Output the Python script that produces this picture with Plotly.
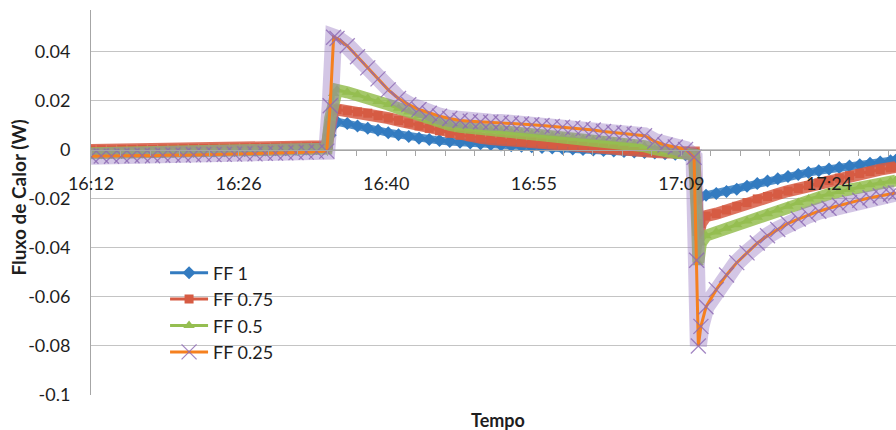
import plotly.graph_objects as go

# ---- data ----
tempo = [
    "16:12:00", "16:13:00", "16:14:00", "16:15:00", "16:16:00", "16:17:00", "16:18:00", "16:19:00",
    "16:20:00", "16:21:00", "16:22:00", "16:23:00", "16:24:00", "16:25:00", "16:26:00", "16:27:00",
    "16:28:00", "16:29:00", "16:30:00", "16:31:00", "16:32:00", "16:33:00", "16:34:00", "16:35:00",
    "16:35:20", "16:35:40", "16:36:00",
    "16:37:00", "16:38:00", "16:39:00", "16:40:00", "16:41:00", "16:42:00", "16:43:00", "16:44:00",
    "16:45:00", "16:46:00", "16:47:00", "16:48:00", "16:49:00", "16:50:00", "16:51:00", "16:52:00",
    "16:53:00", "16:54:00", "16:55:00", "16:56:00", "16:57:00", "16:58:00", "16:59:00", "17:00:00",
    "17:01:00", "17:02:00", "17:03:00", "17:04:00", "17:05:00", "17:06:00", "17:07:00", "17:08:00",
    "17:09:00", "17:10:00",
    "17:10:50", "17:11:05", "17:11:15", "17:11:30",
    "17:12:00", "17:13:00", "17:14:00", "17:15:00", "17:16:00", "17:17:00", "17:18:00", "17:19:00",
    "17:20:00", "17:21:00", "17:22:00", "17:23:00", "17:24:00", "17:25:00", "17:26:00", "17:27:00",
    "17:28:00", "17:29:00", "17:30:00", "17:30:30",
]

ff_1 = [
    -0.0010, -0.0011, -0.0009, -0.0010, -0.0008, -0.0008, -0.0007, -0.0007, -0.0006, -0.0005,
    -0.0005, -0.0004, -0.0004, -0.0003, -0.0002, -0.0002, -0.0001, 0.0000, 0.0001, 0.0001,
    0.0003, 0.0004, 0.0006, 0.0008,
    0.0060, 0.0100, 0.0115,
    0.0108, 0.0098, 0.0088, 0.0080, 0.0070, 0.0062, 0.0055, 0.0048, 0.0043, 0.0038,
    0.0034, 0.0031, 0.0028, 0.0025, 0.0022, 0.0020, 0.0017, 0.0015, 0.0013, 0.0010,
    0.0008, 0.0006, 0.0004, 0.0002, 0.0000, -0.0002, -0.0004, -0.0006, -0.0008, -0.0010,
    -0.0013, -0.0016, -0.0018, -0.0020,
    -0.0030, -0.0120, -0.0200, -0.0190,
    -0.0185, -0.0178, -0.0170, -0.0160, -0.0148, -0.0137, -0.0127, -0.0118, -0.0108, -0.0100,
    -0.0092, -0.0085, -0.0078, -0.0072, -0.0066, -0.0060, -0.0054, -0.0049, -0.0044, -0.0042,
]

ff_075 = [
    0.0000, 0.0001, 0.0000, 0.0002, 0.0002, 0.0003, 0.0002, 0.0004, 0.0004, 0.0005,
    0.0006, 0.0006, 0.0007, 0.0007, 0.0008, 0.0009, 0.0010, 0.0010, 0.0011, 0.0012,
    0.0012, 0.0013, 0.0014, 0.0015,
    0.0100, 0.0160, 0.0165,
    0.0160, 0.0155, 0.0150, 0.0140, 0.0130, 0.0120, 0.0110, 0.0098, 0.0088, 0.0078,
    0.0068, 0.0060, 0.0054, 0.0049, 0.0045, 0.0041, 0.0037, 0.0034, 0.0031, 0.0027,
    0.0024, 0.0021, 0.0018, 0.0015, 0.0012, 0.0009, 0.0006, 0.0003, 0.0000, -0.0003,
    -0.0008, -0.0010, -0.0008, -0.0005,
    -0.0010, -0.0200, -0.0350, -0.0300,
    -0.0270, -0.0260, -0.0245, -0.0230, -0.0215, -0.0200, -0.0190, -0.0180, -0.0168, -0.0157,
    -0.0146, -0.0135, -0.0125, -0.0115, -0.0105, -0.0096, -0.0088, -0.0080, -0.0073, -0.0070,
]

ff_05 = [
    -0.0014, -0.0013, -0.0014, -0.0012, -0.0011, -0.0012, -0.0010, -0.0009, -0.0010, -0.0008,
    -0.0007, -0.0008, -0.0006, -0.0005, -0.0005, -0.0004, -0.0003, -0.0003, -0.0001, 0.0000,
    0.0001, 0.0002, 0.0003, 0.0005,
    0.0130, 0.0230, 0.0245,
    0.0235, 0.0225, 0.0210, 0.0198, 0.0185, 0.0170, 0.0155, 0.0140, 0.0125, 0.0112,
    0.0102, 0.0094, 0.0088, 0.0083, 0.0079, 0.0075, 0.0071, 0.0068, 0.0064, 0.0060,
    0.0056, 0.0052, 0.0048, 0.0044, 0.0040, 0.0036, 0.0032, 0.0027, 0.0022, 0.0015,
    0.0003, -0.0008, -0.0012, -0.0015,
    -0.0020, -0.0250, -0.0460, -0.0380,
    -0.0350, -0.0335, -0.0320, -0.0305, -0.0290, -0.0275, -0.0260, -0.0245, -0.0230, -0.0215,
    -0.0200, -0.0190, -0.0180, -0.0170, -0.0160, -0.0150, -0.0142, -0.0135, -0.0128, -0.0125,
]

ff_025 = [
    -0.0026, -0.0025, -0.0026, -0.0024, -0.0024, -0.0023, -0.0024, -0.0022, -0.0021, -0.0022,
    -0.0020, -0.0019, -0.0019, -0.0018, -0.0017, -0.0016, -0.0016, -0.0014, -0.0013, -0.0012,
    -0.0011, -0.0009, -0.0007, -0.0005,
    0.0180, 0.0460, 0.0455,
    0.0425, 0.0380, 0.0335, 0.0290, 0.0245, 0.0210, 0.0185, 0.0165, 0.0150, 0.0138,
    0.0128, 0.0120, 0.0117, 0.0115, 0.0113, 0.0112, 0.0109, 0.0106, 0.0103, 0.0100,
    0.0096, 0.0093, 0.0090, 0.0087, 0.0081, 0.0075, 0.0071, 0.0068, 0.0063, 0.0058,
    0.0035, 0.0020, 0.0012, 0.0002,
    -0.0030, -0.0450, -0.0800, -0.0720,
    -0.0640, -0.0570, -0.0510, -0.0460, -0.0420, -0.0380, -0.0350, -0.0325, -0.0300, -0.0282,
    -0.0265, -0.0250, -0.0238, -0.0226, -0.0215, -0.0205, -0.0195, -0.0187, -0.0180, -0.0176,
]

x_tick_times = ["16:12:00", "16:26:24", "16:40:48", "16:55:12", "17:09:36", "17:24:00"]
x_tick_labels = ["16:12", "16:26", "16:40", "16:55", "17:09", "17:24"]
y_tick_values = [-0.1, -0.08, -0.06, -0.04, -0.02, 0, 0.02, 0.04]
y_tick_labels = ["-0.1", "-0.08", "-0.06", "-0.04", "-0.02", "0", "0.02", "0.04"]

DAY = "2000-01-01 "
x = [DAY + t for t in tempo]

FONT = "Lato"
BLUE = "#337BC0"
RED = "#D65B43"
GREEN = "#95BE51"
ORANGE = "#F5801F"
PURPLE = "rgba(140,105,180,0.8)"

series = [
    # name, values, line colour, marker, band colour, band width
    ("FF 1", ff_1, BLUE, dict(symbol="diamond", size=10, color=BLUE), "rgba(51,123,192,0.85)", 8),
    ("FF 0.75", ff_075, RED, dict(symbol="square", size=9, color=RED), "rgba(214,91,67,0.85)", 12),
    ("FF 0.5", ff_05, GREEN, dict(symbol="triangle-up", size=10, color=GREEN), "rgba(149,190,81,0.85)", 12),
    ("FF 0.25", ff_025, ORANGE, dict(symbol="x-thin", size=15, line=dict(color=PURPLE, width=1.3)),
     "rgba(150,118,192,0.42)", 17),
]

fig = go.Figure()
for name, vals, lc, mk, band_c, band_w in series:
    # dense-marker "band" look of the original (no legend entry)
    fig.add_trace(go.Scatter(
        x=x, y=vals, mode="lines", showlegend=False, hoverinfo="skip",
        line=dict(color=band_c, width=band_w),
    ))
    fig.add_trace(go.Scatter(
        x=x, y=vals, name=name, mode="lines+markers",
        line=dict(color=lc, width=3), marker=mk,
    ))

fig.update_layout(
    width=896, height=430,
    margin=dict(l=91, r=0, t=10, b=35),
    paper_bgcolor="white", plot_bgcolor="white",
    font=dict(family=FONT, size=18, color="#1e1e1e"),
    showlegend=True,
    legend=dict(
        x=0.092, y=0.365, xanchor="left", yanchor="top",
        bgcolor="rgba(0,0,0,0)", borderwidth=0,
        font=dict(family=FONT, size=18, color="#1e1e1e"),
        itemwidth=38, tracegroupgap=0,
    ),
    xaxis=dict(
        type="date",
        range=[DAY + "16:12:00", DAY + "17:30:32"],
        tickmode="array",
        tickvals=[DAY + t for t in x_tick_times],
        ticktext=x_tick_labels,
        ticks="outside", ticklen=5, tickcolor="#A6A6A6", tickwidth=1,
        minor=dict(ticks="outside", ticklen=5, tickcolor="#A6A6A6",
                   tickmode="linear", tick0=DAY + "16:12:00", dtick=172800, showgrid=False),
        showgrid=False, zeroline=False,
        showline=True, linecolor="#A6A6A6", linewidth=1,
        anchor="free", position=0.6364,
        ticklabelstandoff=12,
        tickfont=dict(family=FONT, size=18, color="#1e1e1e"),
    ),
    yaxis=dict(
        range=[-0.1, 0.0571],
        tickmode="array", tickvals=y_tick_values, ticktext=y_tick_labels,
        showgrid=True, gridcolor="#C4C4C4", gridwidth=1,
        zeroline=False, showline=True, linecolor="#A6A6A6", linewidth=1,
        ticks="", ticklabelstandoff=16,
        tickfont=dict(family=FONT, size=18, color="#1e1e1e"),
    ),
    shapes=[dict(
        type="rect", xref="paper", yref="paper", layer="between",
        x0=0.067, x1=0.256, y0=0.0597, y1=0.361,
        fillcolor="white", line=dict(width=0),
    )],
    annotations=[
        dict(text="<b>Fluxo de Calor (W)</b>", xref="paper", yref="paper",
             x=-0.090, y=0.5117, xanchor="center", yanchor="middle",
             textangle=-90, showarrow=False,
             font=dict(family=FONT, size=19, color="#1e1e1e")),
        dict(text="<b>Tempo</b>", xref="paper", yref="paper",
             x=0.5056, y=-0.065, xanchor="center", yanchor="middle",
             showarrow=False,
             font=dict(family=FONT, size=18, color="#1e1e1e")),
    ],
)

fig.write_html(
    "out.html",
    config={"displayModeBar": False},
    post_script="document.body.style.margin='0';document.body.style.overflow='hidden';",
)
